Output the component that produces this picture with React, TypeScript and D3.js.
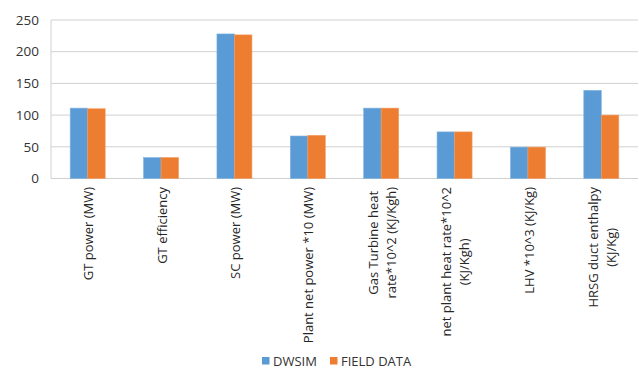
import React from "react";
import * as d3 from "d3";

const categories: string[][] = [
  ["GT power (MW)"],
  ["GT efficiency"],
  ["SC power (MW)"],
  ["Plant net power *10 (MW)"],
  ["Gas Turbine heat", "rate*10^2 (KJ/Kgh)"],
  ["net plant heat rate*10^2", "(KJ/Kgh)"],
  ["LHV *10^3 (KJ/Kg)"],
  ["HRSG duct enthalpy", "(KJ/Kg)"],
];
const dwsim = [111, 33, 228, 67, 111, 73.5, 49.5, 139];
const field = [110, 33, 226.5, 68, 111, 73.5, 49.5, 100];
const yTicks = [0, 50, 100, 150, 200, 250];
const seriesNames = ["DWSIM", "FIELD DATA"];
const colors = ["#5B9BD5", "#ED7D31"];

const font = "'Open Sans', sans-serif";
const labelSize = 13;

function measure(text: string, size: number): number {
  try {
    const c = document.createElement("canvas").getContext("2d")!;
    c.font = `${size}px 'Open Sans'`;
    return c.measureText(text).width;
  } catch {
    return text.length * size * 0.55;
  }
}

export default function App() {
  const W = 639, H = 369;
  const left = 51, right = 638, top = 20, bottom = 178.5;
  const x = d3.scaleBand<number>().domain(d3.range(categories.length)).range([left, right]);
  const y = d3.scaleLinear().domain([0, 250]).range([bottom, top]);
  const bw = 17.5;
  const series = [dwsim, field];
  const lineH = 18;
  return (
    <svg width={W} height={H} style={{ position: "absolute", left: 0, top: 0, background: "#fff" }}>
      {yTicks.map((t) => (
        <g key={t}>
          <line x1={left} x2={right} y1={y(t)} y2={y(t)} stroke="#d0d0d0" strokeWidth={1} />
          <text x={39} y={y(t)} dy="0.35em" textAnchor="end" fontSize={13.5} fontFamily={font} fill="#333">{t}</text>
        </g>
      ))}
      <line x1={left} x2={left} y1={top} y2={bottom} stroke="#d0d0d0" strokeWidth={1} />
      {series.map((s, si) =>
        s.map((v, i) => {
          const cx = x(i)! + x.bandwidth() / 2;
          return (
            <rect key={si + "-" + i} x={cx - bw + si * bw} y={y(v)} width={bw} height={y(0) - y(v)}
              fill={colors[si]} stroke={si === 0 ? "#7fb2e0" : "#f39a5c"} strokeWidth={0.6} />
          );
        })
      )}
      {categories.map((lines, i) => {
        const cx = x(i)! + x.bandwidth() / 2;
        const n = lines.length;
        const maxW = Math.max(...lines.map((l) => measure(l, labelSize)));
        return (
          <g key={i} transform={`translate(${cx + 1},187) rotate(-90)`}>
            {lines.map((l, li) => {
              const off = (li - (n - 1) / 2) * lineH;
              return (
                <text key={li} x={-maxW / 2} y={off} dy="0.35em" textAnchor="middle"
                  fontSize={labelSize} fontFamily={font} fill="#262626">{l}</text>
              );
            })}
          </g>
        );
      })}
      {seriesNames.map((n, i) => {
        const lx = [262, 330][i];
        return (
          <g key={n}>
            <rect x={lx} y={357} width={7.5} height={7.5} fill={colors[i]} />
            <text x={lx + 11} y={361} dy="0.35em" fontSize={13} fontFamily={font} fill="#333">{n}</text>
          </g>
        );
      })}
    </svg>
  );
}
